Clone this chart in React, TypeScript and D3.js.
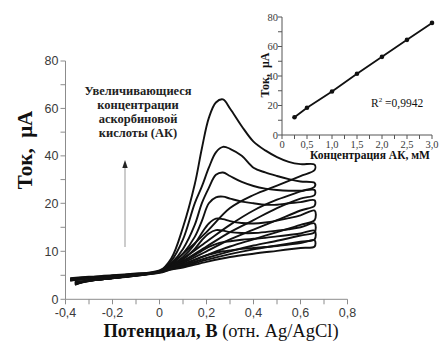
import * as d3 from "d3";

// Cyclic voltammograms of ascorbic acid + calibration inset

const SERIF = "'Liberation Serif', 'Times New Roman', serif";
const SANS = "'Liberation Sans', Arial, sans-serif";
const AXIS = "#8c8c8c";
const TICK_TEXT = "#3a3a3a";
const INK = "#111";

// potential grids (V vs Ag/AgCl)
const E_FWD = [-0.38, -0.3, -0.2, -0.1, 0, 0.05, 0.1, 0.15, 0.18, 0.21, 0.24, 0.27, 0.3, 0.35, 0.4, 0.45, 0.5, 0.55, 0.6, 0.66];
const E_REV = [0.66, 0.6, 0.5, 0.4, 0.3, 0.2, 0.1, 0.05, 0, -0.1, -0.2, -0.3, -0.36];

// forward scans, uA (highest concentration first)
const FWD_1 = [4.4, 4.7, 5.0, 5.4, 5.9, 8.5, 15, 28, 43, 56, 62.5, 63.8, 60, 52.5, 46, 42.3, 39.5, 37.5, 36.5, 36.3];
const FWD_2 = [4.3, 4.6, 4.9, 5.3, 5.8, 8, 12.5, 20, 27, 35, 41.5, 43.8, 43, 40, 35, 33, 31.5, 30.2, 29.2, 28.6];
const FWD_3 = [4.2, 4.5, 4.9, 5.3, 5.8, 7.5, 10.5, 15.5, 20, 26.5, 32, 33, 31.5, 29, 27.3, 26.2, 25.6, 25.3, 25.3, 25.6];
const FWD_4 = [4.1, 4.5, 4.8, 5.2, 5.7, 7.2, 9.5, 13, 16.3, 20, 22.5, 22.8, 22, 20.7, 20, 19.7, 19.7, 20, 20.5, 21.3];
const FWD_5 = [4.0, 4.4, 4.8, 5.2, 5.7, 7, 8.8, 11.5, 13.8, 15.8, 16.8, 16.7, 16.3, 15.9, 15.8, 16, 16.4, 16.9, 17.5, 18.5];
const FWD_6 = [4.0, 4.4, 4.8, 5.2, 5.7, 6.9, 8.3, 10.5, 12.3, 13.7, 14.4, 14.3, 14, 13.8, 13.8, 14, 14.3, 14.6, 15, 15.8];
const FWD_7 = [3.9, 4.3, 4.7, 5.1, 5.6, 6.7, 7.8, 9.2, 10.1, 10.9, 11.5, 11.9, 12.1, 12.4, 12.6, 12.8, 13.1, 13.4, 13.7, 14.3];
const FWD_8 = [3.9, 4.3, 4.7, 5.1, 5.6, 6.6, 7.3, 8.2, 8.8, 9.3, 9.7, 10, 10.2, 10.5, 10.7, 10.9, 11.1, 11.4, 11.7, 12.3];

// reverse scans, uA
const REV_1 = [34, 31.5, 27.5, 23.5, 19, 14, 9.5, 7.5, 6.0, 5.2, 4.6, 4.0, 3.0];
const REV_2 = [27, 25, 21.5, 18.5, 15.5, 12, 8.5, 7.2, 5.9, 5.1, 4.5, 3.9, 3.1];
const REV_3 = [23.5, 22, 19, 16.5, 14, 11, 8, 7, 5.8, 5.0, 4.4, 3.8, 3.2];
const REV_4 = [19.5, 18.5, 16.5, 14.5, 12.5, 10, 7.6, 6.8, 5.7, 5.0, 4.4, 3.8, 3.3];
const REV_5 = [16.5, 15.5, 14, 12.5, 11, 9.2, 7.3, 6.6, 5.7, 5.0, 4.4, 3.9, 3.4];
const REV_6 = [14, 13.3, 12.2, 11.2, 10, 8.6, 7.0, 6.4, 5.6, 5.0, 4.4, 3.9, 3.5];
const REV_7 = [12.5, 12, 11.2, 10.4, 9.4, 8.2, 6.8, 6.3, 5.6, 4.9, 4.4, 3.9, 3.5];
const REV_8 = [11, 10.7, 10.1, 9.5, 8.8, 7.8, 6.6, 6.2, 5.5, 4.9, 4.4, 3.9, 3.6];

const SCANS = [
  [FWD_1, REV_1], [FWD_2, REV_2], [FWD_3, REV_3], [FWD_4, REV_4],
  [FWD_5, REV_5], [FWD_6, REV_6], [FWD_7, REV_7], [FWD_8, REV_8],
];

// axis ticks of the main plot (y axis is broken: 0-20 stretched)
const Y_MAJOR = [0, 10, 20, 40, 60, 80];
const Y_MINOR = [5, 15, 30, 50, 70];
const X_MAJOR = [-0.4, -0.2, 0, 0.2, 0.4, 0.6, 0.8];
const X_MINOR = [-0.3, -0.1, 0.1, 0.3, 0.5, 0.7];

const NOTE_LINES = ["Увеличивающиеся", "концентрации", "аскорбиновой", "кислоты (АК)"];

// inset: peak current vs AA concentration
const CONC = [0.25, 0.5, 1.0, 1.5, 2.0, 2.5, 3.0];
const PEAK = [12, 18.5, 29.5, 41.5, 53, 64.5, 76];
const IN_X_MAJOR = [0, 0.5, 1.0, 1.5, 2.0, 2.5, 3.0];
const IN_X_MINOR = [0.25, 0.75, 1.25, 1.75, 2.25, 2.75];
const IN_Y_MAJOR = [0, 20, 40, 60, 80];
const IN_Y_MINOR = [10, 30, 50, 70];

const fmt = (v: number, digits: number) => v.toFixed(digits).replace(".", ",").replace("-", "-");

export default function App() {
  const x = d3.scaleLinear().domain([-0.4, 0.8]).range([65.5, 347.5]);
  const y = d3.scaleLinear().domain([0, 20, 80]).range([299.3, 203.3, 61]);

  const ix = d3.scaleLinear().domain([0, 3]).range([282, 432]);
  const iy = d3.scaleLinear().domain([0, 80]).range([135, 17]);

  const loop = d3
    .line<[number, number]>()
    .x((d) => x(d[0]))
    .y((d) => y(d[1]))
    .curve(d3.curveCatmullRom.alpha(0.5));

  const insetLine = d3
    .line<number>()
    .x((_, i) => ix(CONC[i]))
    .y((d) => iy(d));

  const x0 = x(-0.4);
  const y0 = y(0);

  return (
    <svg width={439} height={343} style={{ position: "absolute", left: 0, top: 0, background: "#fff" }}>
      {/* main axes */}
      <line x1={x0} x2={x0} y1={y(80)} y2={y0} stroke={AXIS} strokeWidth={1} />
      <line x1={x0} x2={x(0.8)} y1={y0} y2={y0} stroke={AXIS} strokeWidth={1} />
      {[...Y_MAJOR, ...Y_MINOR].map((t) => (
        <line key={`yt${t}`} x1={x0 - 5} x2={x0} y1={y(t)} y2={y(t)} stroke={AXIS} />
      ))}
      {Y_MAJOR.map((t) => (
        <text key={`yl${t}`} x={x0 - 7} y={y(t)} dy="0.35em" textAnchor="end" fontSize={12.5} fontFamily={SANS} fill={TICK_TEXT}>
          {t}
        </text>
      ))}
      {[...X_MAJOR, ...X_MINOR].map((t) => (
        <line key={`xt${t}`} x1={x(t)} x2={x(t)} y1={y0} y2={y0 + 5} stroke={AXIS} />
      ))}
      {X_MAJOR.map((t) => (
        <text key={`xl${t}`} x={x(t)} y={y0 + 18} textAnchor="middle" fontSize={12.5} fontFamily={SANS} fill={TICK_TEXT}>
          {t === 0 ? "0" : fmt(t, 1)}
        </text>
      ))}

      {/* axis titles */}
      <text transform="translate(32,150) rotate(-90)" textAnchor="middle" fontSize={21} fontWeight="bold" fontFamily={SERIF} fill={INK}>
        Ток,{"\u00a0\u00a0"}μА
      </text>
      <text x={221} y={337} textAnchor="middle" fontSize={18.5} fontFamily={SERIF} fill={INK}>
        <tspan fontWeight="bold">Потенциал, В</tspan> (отн. Ag/AgCl)
      </text>

      {/* voltammograms */}
      {SCANS.map(([fwd, rev], k) => {
        const pts: [number, number][] = [
          ...fwd.map((v, i) => [E_FWD[i], v] as [number, number]),
          ...rev.map((v, i) => [E_REV[i], v] as [number, number]),
        ];
        return (
          <path key={k} d={loop(pts) ?? ""} fill="none" stroke={INK} strokeWidth={1.9} strokeLinejoin="round" />
        );
      })}

      {/* annotation + arrow */}
      {NOTE_LINES.map((s, i) => (
        <text key={s} x={138} y={95 + i * 14} textAnchor="middle" fontSize={12.5} fontWeight="bold" fontFamily={SERIF} fill="#222">
          {s}
        </text>
      ))}
      <line x1={125} x2={125} y1={247} y2={166} stroke="#999" strokeWidth={1} />
      <path d="M125,160 L122.3,168 L127.7,168 Z" fill="#222" />

      {/* inset */}
      <line x1={ix(0)} x2={ix(0)} y1={iy(80)} y2={iy(0)} stroke="#555" />
      <line x1={ix(0)} x2={ix(3)} y1={iy(0)} y2={iy(0)} stroke="#555" />
      {[...IN_Y_MAJOR, ...IN_Y_MINOR].map((t) => (
        <line key={`iyt${t}`} x1={ix(0) - 4} x2={ix(0)} y1={iy(t)} y2={iy(t)} stroke="#555" />
      ))}
      {IN_Y_MAJOR.map((t) => (
        <text key={`iyl${t}`} x={ix(0) - 4} y={iy(t)} dy="0.35em" textAnchor="end" fontSize={10.5} fontFamily={SERIF} fill={TICK_TEXT}>
          {t}
        </text>
      ))}
      {[...IN_X_MAJOR, ...IN_X_MINOR].map((t) => (
        <line key={`ixt${t}`} x1={ix(t)} x2={ix(t)} y1={iy(0)} y2={iy(0) + 4} stroke="#555" />
      ))}
      {IN_X_MAJOR.map((t) => (
        <text key={`ixl${t}`} x={ix(t)} y={iy(0) + 13} textAnchor="middle" fontSize={10.5} fontFamily={SERIF} fill={TICK_TEXT}>
          {t === 0 ? "0" : fmt(t, 1)}
        </text>
      ))}
      <text transform="translate(269,75) rotate(-90)" textAnchor="middle" fontSize={12} fontWeight="bold" fontFamily={SERIF} fill={INK}>
        Ток,{"\u00a0\u00a0"}μА
      </text>
      <text x={370} y={159} textAnchor="middle" fontSize={11.5} fontWeight="bold" fontFamily={SERIF} fill={INK}>
        Концентрация АК, мМ
      </text>
      <text x={371} y={107} fontSize={11.5} fontFamily={SERIF} fill={INK}>
        R<tspan dy={-5} fontSize={7}>2</tspan>
        <tspan dy={5}>{"\u00a0"}=0,9942</tspan>
      </text>
      <path d={insetLine(PEAK) ?? ""} fill="none" stroke={INK} strokeWidth={1.8} />
      {PEAK.map((v, i) => (
        <circle key={i} cx={ix(CONC[i])} cy={iy(v)} r={2.3} fill={INK} />
      ))}
    </svg>
  );
}
